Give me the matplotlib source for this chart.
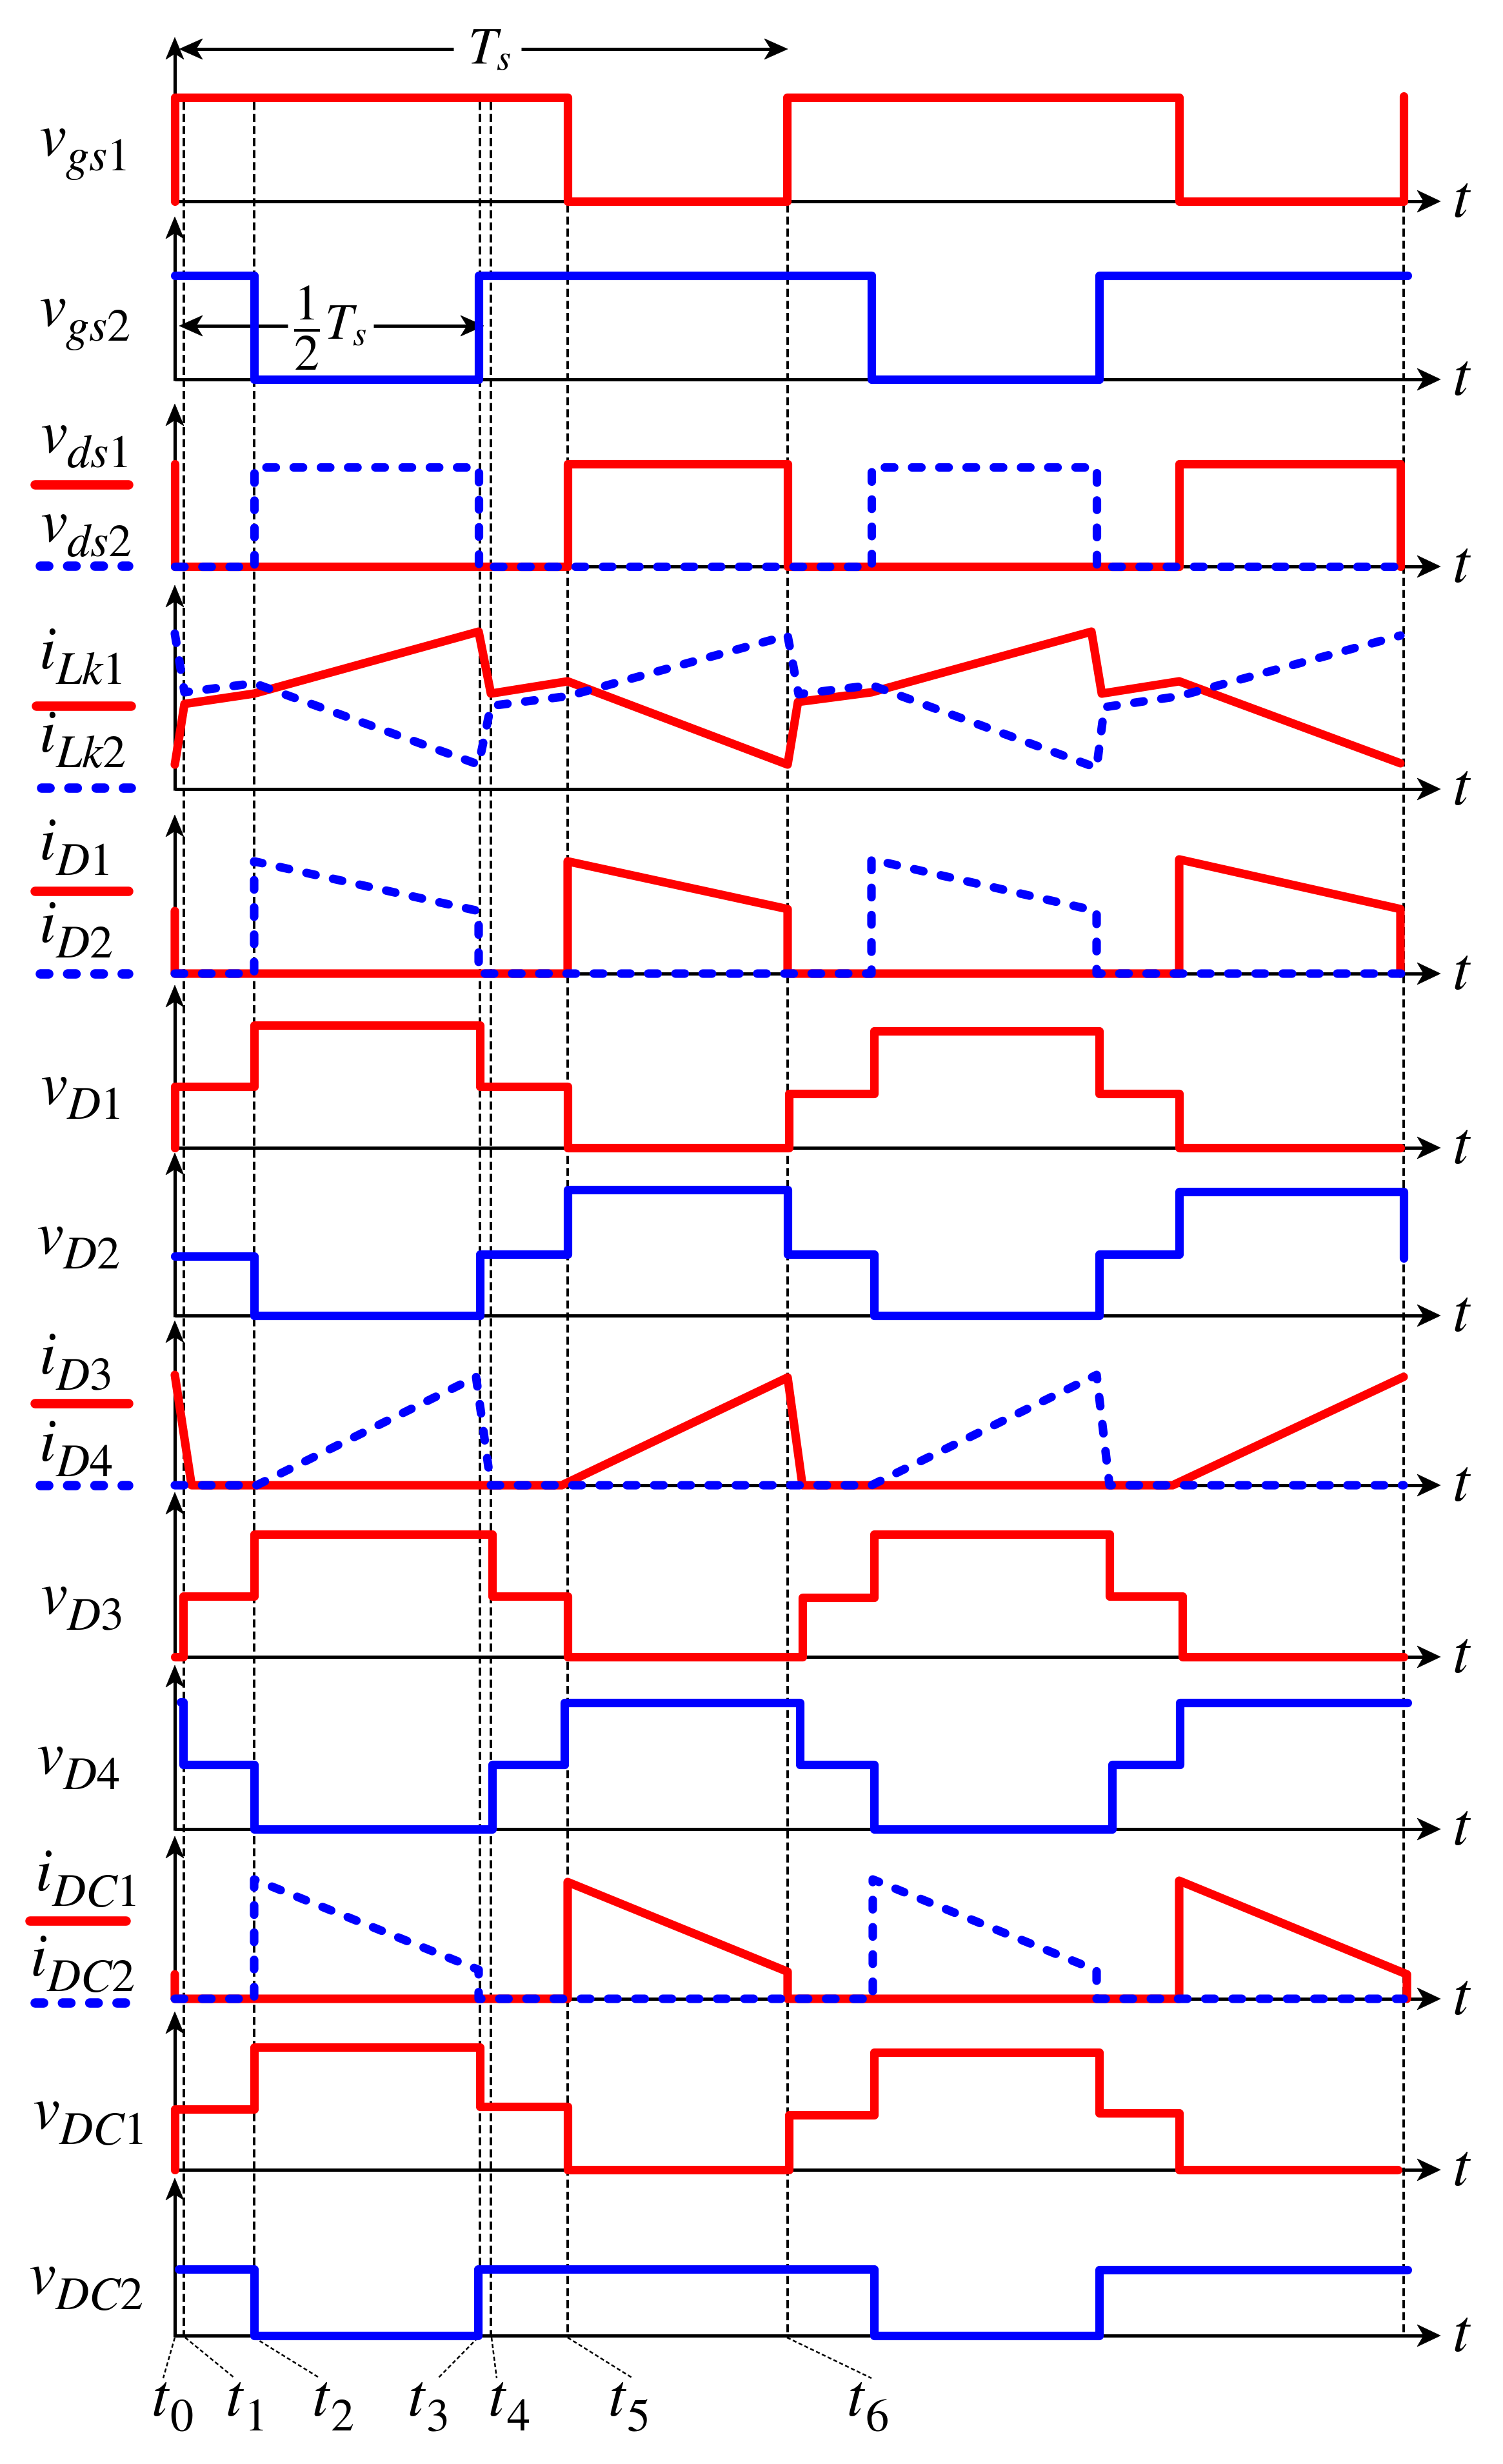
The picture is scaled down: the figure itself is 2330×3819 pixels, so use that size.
import matplotlib.pyplot as plt
from matplotlib.patches import Polygon

plt.rcParams['mathtext.fontset'] = 'stix'
plt.rcParams['font.family'] = ['STIXGeneral', 'DejaVu Serif']

W_PX, H_PX = 2330, 3819
X0 = 271          # pixel column of the vertical axes (time origin)
RED = '#ff0000'
BLUE = '#0000ff'

# ---------------- data (time origin at the vertical axes) ----------------
vgs1_t = [0, 0, 609, 609, 949, 949, 1557, 1557, 1905, 1905]
vgs1_v = [0, 161, 161, 0, 0, 161, 161, 0, 0, 163]
vgs2_t = [0, 123, 123, 471, 471, 1080, 1080, 1433, 1433, 1911]
vgs2_v = [161, 161, 0, 0, 161, 161, 0, 0, 161, 161]

vds1_t = [0, 0, 609, 609, 950, 950, 1557, 1557, 1900, 1900]
vds1_v = [159, 0, 0, 159, 159, 0, 0, 159, 159, 0]
vds2_t = [0, 123, 123, 471, 471, 1080, 1080, 1429, 1429, 1905]
vds2_v = [0, 0, 154, 154, 0, 0, 154, 154, 0, 0]

iLk1_t = [0, 15, 123, 471, 490, 609, 950, 966, 1080, 1421, 1437, 1557, 1900]
iLk1_v = [38, 132, 148, 244, 148, 167, 38, 135, 150, 244, 148, 167, 40]
iLk2_t = [0, 15, 123, 471, 490, 609, 950, 967, 1080, 1429, 1441, 1557, 1900]
iLk2_v = [241, 150, 164, 38, 129, 144, 238, 147, 161, 33, 127, 144, 238]

iD1_t = [0, 0, 609, 609, 950, 950, 1557, 1557, 1900, 1900]
iD1_v = [97, 0, 0, 174, 100, 0, 0, 177, 100, 0]
iD2_t = [0, 123, 123, 471, 471, 1080, 1080, 1429, 1429, 1905]
iD2_v = [0, 0, 174, 97, 0, 0, 177, 97, 0, 0]

vD1_t = [0, 0, 123, 123, 473, 473, 609, 609, 952, 952, 1084, 1084, 1433, 1433, 1557, 1557, 1900]
vD1_v = [0, 95, 95, 190, 190, 95, 95, 0, 0, 84, 84, 181, 181, 84, 84, 0, 0]
vD2_t = [0, 123, 123, 473, 473, 609, 609, 950, 950, 1084, 1084, 1433, 1433, 1557, 1557, 1905, 1905]
vD2_v = [92, 92, 0, 0, 95, 95, 195, 195, 95, 95, 0, 0, 95, 95, 192, 192, 89]

iD3_t = [0, 26, 600, 950, 973, 1547, 1905]
iD3_v = [171, 0, 0, 167, 0, 0, 168]
iD4_t = [0, 127, 467, 490, 1080, 1429, 1449, 1905]
iD4_v = [0, 0, 168, 0, 0, 171, 0, 0]

vD3_t = [0, 13, 13, 123, 123, 492, 492, 609, 609, 973, 973, 1084, 1084, 1449, 1449, 1562, 1562, 1905]
vD3_v = [0, 0, 94, 94, 190, 190, 94, 94, 0, 0, 92, 92, 190, 190, 94, 94, 0, 0]
vD4_t = [9, 13, 13, 123, 123, 492, 492, 604, 604, 969, 969, 1084, 1084, 1453, 1453, 1558, 1558, 1911]
vD4_v = [197, 197, 100, 100, 0, 0, 100, 100, 196, 196, 100, 100, 0, 0, 100, 100, 196, 196]

iDC1_t = [0, 0, 609, 609, 950, 950, 1557, 1557, 1910, 1910]
iDC1_v = [38, 0, 0, 181, 42, 0, 0, 183, 38, 0]
iDC2_t = [0, 123, 123, 471, 471, 1082, 1082, 1429, 1429, 1905]
iDC2_v = [0, 0, 185, 45, 0, 0, 185, 44, 0, 0]

vDC1_t = [0, 0, 123, 123, 473, 473, 609, 609, 952, 952, 1084, 1084, 1433, 1433, 1557, 1557, 1896]
vDC1_v = [0, 94, 94, 190, 190, 98, 98, 0, 0, 85, 85, 182, 182, 88, 88, 0, 0]
vDC2_t = [6, 123, 123, 470, 470, 1084, 1084, 1433, 1433, 1911]
vDC2_v = [103, 103, 0, 0, 103, 103, 0, 0, 102, 102]

# time instants marked by dashed lines and their names
mark_t = [14, 123, 473, 490, 609, 950, 1905]
mark_top = [158, 158, 158, 158, 317, 317, 317]
tick_t = [0, 16, 123, 470, 491, 609, 949]
tick_subs = ['0', '1', '2', '3', '4', '5', '6']
tick_text_x = [234, 349, 483, 631, 756, 942, 1312]
tick_lead_x = [-18, 93, 225, 408, 499, 710, 1080]

# row baselines / arrow tips (pixel rows)
baselines = [312, 588, 878, 1223, 1509, 1779, 2039, 2302, 2568, 2835, 3098, 3363, 3620]
tips = [58, 336, 626, 907, 1263, 1527, 1787, 2047, 2313, 2581, 2846, 3118, 3376]

label_main = ['v', 'v', 'v', 'v', 'i', 'i', 'i', 'i', 'v', 'v', 'i', 'i',
              'v', 'v', 'i', 'i', 'v', 'v']
label_sub = ['gs1', 'gs2', 'ds1', 'ds2', 'Lk1', 'Lk2', 'D1', 'D2', 'D1', 'D2', 'D3', 'D4',
             'D3', 'D4', 'DC1', 'DC2', 'DC1', 'DC2']
label_x = [60, 60, 62, 62, 60, 60, 60, 60, 62, 56, 60, 60, 62, 56, 54, 46, 50, 44]
label_base = [240, 504, 700, 838, 1036, 1165, 1332, 1460, 1710, 1942, 2129, 2264, 2501, 2749,
              2930, 3062, 3299, 3555]

legend_red_y = [751, 1094, 1381, 2175, 2977]
legend_blue_y = [877, 1221, 1509, 2302, 3104]
legend_x0 = [54, 56, 54, 54, 46]
legend_x1 = [199, 203, 199, 199, 195]

# ---------------- figure ----------------
fig = plt.figure(figsize=(W_PX / 100, H_PX / 100), dpi=100)
ax = fig.add_axes([0, 0, 1, 1])
ax.set_xlim(-X0, W_PX - X0)
ax.set_ylim(H_PX, 0)
ax.axis('off')


def head(x, y, d, L=36, w=17, n=10):
    if d == 'right':
        pts = [(x, y), (x - L, y - w), (x - L + n, y), (x - L, y + w)]
    elif d == 'left':
        pts = [(x, y), (x + L, y - w), (x + L - n, y), (x + L, y + w)]
    else:
        pts = [(x, y), (x - w, y + L), (x, y + L - n), (x + w, y + L)]
    ax.add_patch(Polygon(pts, closed=True, fc='k', ec='k', lw=0.5, zorder=3))


def sym(x, y, main, sub, size=68, subsize=52, drop=24):
    # italic symbol with a subscript placed right after it
    m = ax.text(x, y, '$' + main + '$', fontsize=size, ha='left', va='baseline')
    ax.annotate('$' + sub + '$', xy=(1, y + drop), xycoords=(m, 'data'),
                xytext=(-1, 0), textcoords='offset points',
                fontsize=subsize, ha='left', va='baseline')


AX_END = 2233 - X0
for base, tip in zip(baselines, tips):
    ax.plot([0, AX_END - 20], [base, base], color='k', lw=3.7, solid_capstyle='butt', zorder=2)
    head(AX_END, base, 'right')
    ax.plot([0, 0], [base + 2, tip + 20], color='k', lw=3.7, solid_capstyle='butt', zorder=2)
    head(0, tip, 'up', L=34, w=14, n=9)
    ax.text(AX_END + 18, base + 2, r'$t$', fontsize=68, ha='left', va='center')

# dashed time markers
for t, top in zip(mark_t, mark_top):
    ax.plot([t, t], [top, 3622], color='k', lw=2.8, dashes=(3.2, 1.6), zorder=1)

# bottom leaders + names
for t, lx, tx, s in zip(tick_t, tick_lead_x, tick_text_x, tick_subs):
    ax.plot([t, lx], [3623, 3686], color='k', lw=1.8, dashes=(2.5, 1.5))
    sym(tx - X0, 3744, 't', s, size=68, subsize=52, drop=23)

# Ts arrows
ax.plot([20, 432], [76, 76], color='k', lw=3.7, solid_capstyle='butt')
ax.plot([537, 930], [76, 76], color='k', lw=3.7, solid_capstyle='butt')
head(7, 76, 'left', L=36, w=16)
head(950, 76, 'right', L=36, w=16)
ax.text(488, 80, r'$T_s$', fontsize=58, ha='center', va='center')

ax.plot([20, 175], [505, 505], color='k', lw=3.7, solid_capstyle='butt')
ax.plot([308, 460], [505, 505], color='k', lw=3.7, solid_capstyle='butt')
head(7, 505, 'left', L=36, w=16)
head(479, 505, 'right', L=36, w=16)
ax.text(241, 508, r'$\dfrac{1}{2}T_s$', fontsize=56, ha='center', va='center')

# row labels and legend samples
for m, s, x, y in zip(label_main, label_sub, label_x, label_base):
    sym(x - X0, y, m, s)
for x0, x1, yr, yb in zip(legend_x0, legend_x1, legend_red_y, legend_blue_y):
    ax.plot([x0 - X0, x1 - X0], [yr, yr], color=RED, lw=10.5, solid_capstyle='round')
    ax.plot([x0 - X0 + 8, x1 - X0], [yb, yb], color=BLUE, lw=10.5, dashes=(0.9, 2.0),
            dash_capstyle='round')


def row_axes(base):
    a = fig.add_axes([0, 0, 1, 1])
    a.set_xlim(-X0, W_PX - X0)
    a.set_ylim(base - H_PX, base)
    a.axis('off')
    return a


def solid(a, t, v, c):
    a.plot(t, v, color=c, lw=9.5, solid_capstyle='round', solid_joinstyle='round')


def dotted(a, t, v, c):
    a.plot(t, v, color=c, lw=9.5, dashes=(1.1, 2.1), dash_capstyle='round',
           dash_joinstyle='round')


a = row_axes(baselines[0]); solid(a, vgs1_t, vgs1_v, RED)
a = row_axes(baselines[1]); solid(a, vgs2_t, vgs2_v, BLUE)
a = row_axes(baselines[2]); solid(a, vds1_t, vds1_v, RED); dotted(a, vds2_t, vds2_v, BLUE)
a = row_axes(baselines[3]); solid(a, iLk1_t, iLk1_v, RED); dotted(a, iLk2_t, iLk2_v, BLUE)
a = row_axes(baselines[4]); solid(a, iD1_t, iD1_v, RED); dotted(a, iD2_t, iD2_v, BLUE)
a = row_axes(baselines[5]); solid(a, vD1_t, vD1_v, RED)
a = row_axes(baselines[6]); solid(a, vD2_t, vD2_v, BLUE)
a = row_axes(baselines[7]); solid(a, iD3_t, iD3_v, RED); dotted(a, iD4_t, iD4_v, BLUE)
a = row_axes(baselines[8]); solid(a, vD3_t, vD3_v, RED)
a = row_axes(baselines[9]); solid(a, vD4_t, vD4_v, BLUE)
a = row_axes(baselines[10]); solid(a, iDC1_t, iDC1_v, RED); dotted(a, iDC2_t, iDC2_v, BLUE)
a = row_axes(baselines[11]); solid(a, vDC1_t, vDC1_v, RED)
a = row_axes(baselines[12]); solid(a, vDC2_t, vDC2_v, BLUE)

fig.savefig('out.png', dpi=100)
